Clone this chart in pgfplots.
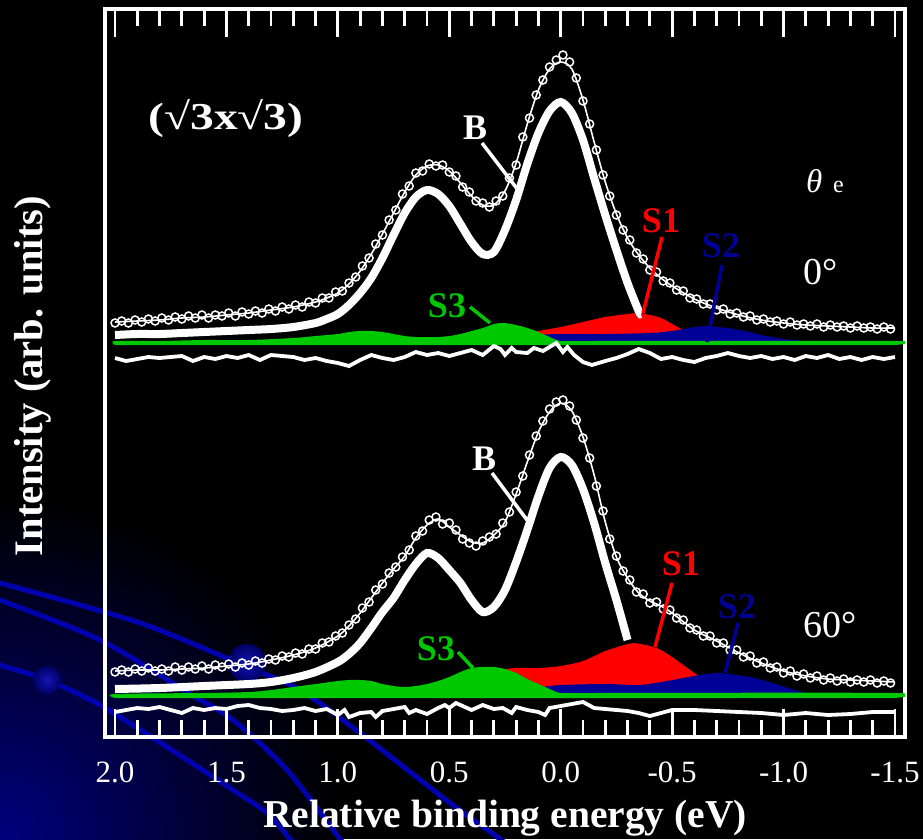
\documentclass[border=0pt]{standalone}
\usepackage{fontspec}
\setmainfont{Liberation Serif}
\usepackage{pgfplots}
\pgfplotsset{compat=1.18}
\definecolor{sgreen}{RGB}{0,200,0}
\definecolor{sred}{RGB}{255,0,0}
\definecolor{sblue}{RGB}{0,0,150}
\definecolor{deco}{RGB}{0,0,175}
\begin{document}
\begin{tikzpicture}
\begin{scope}[x=1pt,y=1pt]
\path[use as bounding box] (0,0) rectangle (923,839);
\fill[black] (0,0) rectangle (923,839);
\begin{scope}
\clip (0,0) rectangle (923,839);
\shade[inner color={rgb,255:red,0;green,0;blue,125}, outer color=black] (0,0) circle (340);
\draw[deco, line width=5pt] plot[smooth] coordinates {(-10,258) (0,256) (140,216) (247,172) (300,149) (360,106) (450,36) (500,0) (510,-10)};
\draw[deco, line width=5pt] plot[smooth] coordinates {(-10,243) (0,239) (100,199) (190,145) (233,119) (287,69) (340,0) (350,-12)};
\draw[deco, line width=5pt] plot[smooth] coordinates {(-10,178) (0,174) (47,159) (100,134) (167,92) (233,49) (267,26) (290,0) (300,-10)};
\shade[inner color={rgb,255:red,20;green,20;blue,180}, outer color={rgb,255:red,0;green,0;blue,100}] (47,159) circle (14);
\shade[inner color={rgb,255:red,20;green,20;blue,180}, outer color={rgb,255:red,0;green,0;blue,100}] (247,176) circle (19);
\end{scope}
\end{scope}

\begin{axis}[
  at={(105pt,102pt)}, anchor=south west,
  width=800pt, height=728pt, scale only axis,
  xmin=-1.545, xmax=2.045, x dir=reverse,
  ymin=9, ymax=737, y dir=reverse,
  axis line style={white, line width=3.5pt},
  xtick={2,1.5,1,0.5,0,-0.5,-1,-1.5},
  xticklabels={2.0,1.5,1.0,0.5,0.0,-0.5,-1.0,-1.5},
  minor x tick num=4,
  ytick=\empty,
  tick align=inside,
  major tick length=28pt, minor tick length=17pt,
  every tick/.style={white, line width=2.8pt},
  xticklabel style={font=\fontsize{31pt}{31pt}\selectfont, text=white, inner sep=0pt, outer sep=0pt, anchor=north, yshift=-25pt},
  clip=true,
]
% ---------- top panel (0 deg) ----------
\addplot[draw=none, fill=sred, smooth] coordinates {(0.5,343)(0.4,341)(0.3,338)(0.2,335)(0.1,331)(0.0,327)(-0.1,322)(-0.2,317)(-0.3,314)(-0.35,313)(-0.4,315)(-0.45,318)(-0.5,324)(-0.55,330)(-0.6,335)(-0.65,339)(-0.7,342)(-0.8,343)};
\addplot[draw=none, fill=sblue, smooth] coordinates {(0.2,343)(0.15,338)(0.1,335)(0.0,334)(-0.2,334)(-0.4,333)(-0.5,331)(-0.55,329)(-0.6,327)(-0.66,326)(-0.7,327)(-0.75,328)(-0.8,330)(-0.85,332)(-0.9,335)(-1.0,339)(-1.1,341)(-1.2,343)};
\addplot[draw=none, fill=sgreen, smooth] coordinates {(2.0,345)(2.0,341)(1.8,341)(1.6,340)(1.4,340)(1.2,338)(1.1,336)(1.0,334)(0.95,332)(0.9,331)(0.85,331)(0.8,332)(0.75,334)(0.7,336)(0.65,337)(0.6,337)(0.55,337)(0.5,336)(0.45,334)(0.4,331)(0.35,328)(0.3,324)(0.27,323)(0.25,323)(0.2,325)(0.15,328)(0.1,332)(0.05,337)(0.0,341)(-0.1,341)(-1.5,341)(-1.5,345)};
\addplot[white, line width=8pt, smooth] coordinates {(2.00,335)(1.90,334)(1.80,334)(1.70,333)(1.60,332)(1.50,331)(1.40,330)(1.30,329)(1.20,327)(1.10,323)(1.05,319)(1.00,314)(0.95,305)(0.90,293)(0.85,278)(0.80,258)(0.75,235)(0.70,213)(0.65,197)(0.60,190)(0.55,194)(0.50,206)(0.45,224)(0.40,242)(0.35,254)(0.30,252)(0.25,230)(0.20,200)(0.15,164)(0.10,133)(0.05,111)(0.00,102)(-0.05,113)(-0.10,140)(-0.15,178)(-0.20,215)(-0.25,250)(-0.30,283)(-0.35,311)(-0.36,314)};
\addplot[white, line width=1.6pt, smooth] coordinates {(2.00,322)(1.90,321)(1.80,320)(1.70,318)(1.60,317)(1.50,315)(1.40,313)(1.30,310)(1.20,307)(1.10,302)(1.05,298)(1.00,293)(0.95,284)(0.90,271)(0.85,254)(0.80,234)(0.75,213)(0.70,192)(0.65,175)(0.60,166)(0.55,165)(0.50,171)(0.45,183)(0.40,196)(0.35,205)(0.30,205)(0.25,191)(0.20,163)(0.15,124)(0.10,90)(0.05,69)(0.00,62)(-0.05,69)(-0.10,100)(-0.15,142)(-0.20,182)(-0.25,214)(-0.30,238)(-0.35,255)(-0.40,268)(-0.45,278)(-0.50,286)(-0.60,299)(-0.70,308)(-0.80,315)(-0.90,320)(-1.00,323)(-1.10,325)(-1.20,326)(-1.30,327)(-1.40,328)(-1.50,328)};
\addplot[only marks, mark=o, mark size=4pt, mark options={white, line width=1.5pt}] coordinates {(2.00,323)(1.97,321)(1.94,323)(1.91,320)(1.88,322)(1.85,319)(1.82,321)(1.79,318)(1.76,320)(1.73,317)(1.70,319)(1.67,316)(1.64,318)(1.61,315)(1.58,318)(1.55,315)(1.52,316)(1.49,313)(1.46,316)(1.43,312)(1.40,314)(1.37,311)(1.34,313)(1.31,309)(1.28,311)(1.25,307)(1.22,309)(1.19,305)(1.16,307)(1.13,302)(1.10,303)(1.07,298)(1.04,298)(1.01,292)(0.98,291)(0.95,283)(0.92,277)(0.89,266)(0.86,258)(0.83,244)(0.80,235)(0.77,220)(0.74,210)(0.71,194)(0.68,186)(0.65,173)(0.62,171)(0.59,164)(0.56,166)(0.53,165)(0.50,172)(0.47,176)(0.44,187)(0.41,192)(0.38,201)(0.35,203)(0.32,207)(0.29,201)(0.26,196)(0.23,178)(0.20,165)(0.17,137)(0.14,118)(0.11,95)(0.08,80)(0.05,67)(0.02,60)(-0.01,55)(-0.04,62)(-0.07,78)(-0.10,101)(-0.13,124)(-0.16,150)(-0.19,175)(-0.22,196)(-0.25,215)(-0.28,230)(-0.31,240)(-0.34,253)(-0.37,259)(-0.40,270)(-0.43,272)(-0.46,281)(-0.49,283)(-0.52,290)(-0.55,291)(-0.58,298)(-0.61,299)(-0.64,304)(-0.67,304)(-0.70,310)(-0.73,309)(-0.76,314)(-0.79,313)(-0.82,317)(-0.85,316)(-0.88,320)(-0.91,319)(-0.94,322)(-0.97,321)(-1.00,324)(-1.03,322)(-1.06,325)(-1.09,324)(-1.12,326)(-1.15,324)(-1.18,327)(-1.21,325)(-1.24,327)(-1.27,326)(-1.30,328)(-1.33,326)(-1.36,328)(-1.39,327)(-1.42,329)(-1.45,327)(-1.48,329)};
\addplot[white, line width=3.8pt] coordinates {(2.00,358)(1.95,361)(1.90,359)(1.85,357)(1.80,358)(1.75,357)(1.70,356)(1.65,361)(1.60,357)(1.55,359)(1.50,356)(1.45,358)(1.40,355)(1.35,360)(1.30,355)(1.25,356)(1.20,357)(1.15,360)(1.10,358)(1.05,361)(1.00,363)(0.95,366)(0.90,360)(0.85,355)(0.80,358)(0.75,360)(0.70,357)(0.65,352)(0.60,355)(0.55,353)(0.50,356)(0.45,353)(0.40,350)(0.35,355)(0.30,346)(0.27,349)(0.25,355)(0.22,348)(0.20,352)(0.15,353)(0.12,348)(0.08,351)(0.05,347)(0.02,343)(-0.01,352)(-0.03,347)(-0.06,355)(-0.10,362)(-0.14,365)(-0.20,361)(-0.25,358)(-0.30,354)(-0.35,349)(-0.40,353)(-0.45,359)(-0.50,357)(-0.55,360)(-0.60,362)(-0.65,358)(-0.70,356)(-0.75,353)(-0.80,356)(-0.85,358)(-0.90,356)(-0.95,359)(-1.00,357)(-1.05,360)(-1.10,356)(-1.15,358)(-1.20,355)(-1.25,359)(-1.30,357)(-1.35,360)(-1.40,357)(-1.45,359)(-1.50,357)};
% ---------- bottom panel (60 deg) ----------
\addplot[draw=none, fill=sred, smooth] coordinates {(0.6,698)(0.5,690)(0.4,680)(0.3,671)(0.2,668)(0.1,668)(0.0,666)(-0.1,661)(-0.2,651)(-0.3,644)(-0.33,643)(-0.4,646)(-0.45,650)(-0.5,657)(-0.55,665)(-0.6,673)(-0.65,681)(-0.7,688)(-0.75,694)(-0.8,698)};
\addplot[draw=none, fill=sblue, smooth] coordinates {(0.2,698)(0.12,690)(0.08,687)(0.0,685)(-0.2,684)(-0.35,685)(-0.45,682)(-0.55,678)(-0.65,674)(-0.7,673)(-0.75,674)(-0.85,677)(-0.95,683)(-1.05,690)(-1.15,695)(-1.25,698)};
\addplot[draw=none, fill=sgreen, smooth] coordinates {(2.0,698)(2.0,694)(1.6,693)(1.4,692)(1.3,690)(1.2,687)(1.1,684)(1.0,681)(0.95,680)(0.9,680)(0.85,681)(0.8,684)(0.75,686)(0.7,687)(0.65,686)(0.6,684)(0.55,681)(0.5,677)(0.45,672)(0.4,668)(0.35,667)(0.3,667)(0.25,669)(0.2,673)(0.15,679)(0.1,684)(0.05,689)(0.0,693)(-0.1,693)(-1.5,693)(-1.5,698)};
\addplot[white, line width=8pt, smooth] coordinates {(2.00,689)(1.80,688)(1.60,686)(1.40,684)(1.30,682)(1.20,678)(1.10,672)(1.00,662)(0.95,654)(0.90,643)(0.85,628)(0.80,612)(0.75,598)(0.70,580)(0.65,564)(0.60,553)(0.55,558)(0.50,570)(0.45,583)(0.40,600)(0.35,612)(0.30,607)(0.25,590)(0.20,562)(0.15,530)(0.10,496)(0.05,468)(0.00,457)(-0.05,465)(-0.10,489)(-0.15,523)(-0.20,563)(-0.25,600)(-0.30,640)};
\addplot[white, line width=1.6pt, smooth] coordinates {(2.00,671)(1.90,670)(1.80,670)(1.70,669)(1.60,668)(1.50,666)(1.40,664)(1.30,660)(1.20,655)(1.10,648)(1.00,636)(0.95,626)(0.90,613)(0.85,598)(0.80,583)(0.75,569)(0.70,556)(0.65,538)(0.60,525)(0.55,519)(0.50,527)(0.45,535)(0.40,542)(0.35,543)(0.30,535)(0.25,522)(0.20,494)(0.15,462)(0.10,432)(0.05,412)(0.00,403)(-0.05,411)(-0.10,437)(-0.15,475)(-0.20,522)(-0.25,557)(-0.30,578)(-0.35,593)(-0.40,601)(-0.45,606)(-0.50,613)(-0.60,630)(-0.70,641)(-0.80,653)(-0.90,663)(-1.00,671)(-1.10,676)(-1.20,679)(-1.30,680)(-1.40,681)(-1.50,682)};
\addplot[only marks, mark=o, mark size=4pt, mark options={white, line width=1.5pt}] coordinates {(2.00,672)(1.97,670)(1.94,672)(1.91,669)(1.88,671)(1.85,668)(1.82,671)(1.79,669)(1.76,671)(1.73,667)(1.70,670)(1.67,667)(1.64,669)(1.61,666)(1.58,669)(1.55,665)(1.52,667)(1.49,664)(1.46,667)(1.43,663)(1.40,665)(1.37,661)(1.34,663)(1.31,659)(1.28,660)(1.25,656)(1.22,657)(1.19,653)(1.16,654)(1.13,649)(1.10,649)(1.07,643)(1.04,642)(1.01,636)(0.98,633)(0.95,625)(0.92,619)(0.89,608)(0.86,602)(0.83,590)(0.80,584)(0.77,573)(0.74,567)(0.71,557)(0.68,550)(0.65,536)(0.62,531)(0.59,520)(0.56,517)(0.53,524)(0.50,523)(0.47,530)(0.44,539)(0.41,543)(0.38,546)(0.35,541)(0.32,537)(0.29,534)(0.26,523)(0.23,512)(0.20,492)(0.17,476)(0.14,455)(0.11,436)(0.08,421)(0.05,409)(0.02,402)(-0.01,400)(-0.04,406)(-0.07,420)(-0.10,438)(-0.13,458)(-0.16,486)(-0.19,511)(-0.22,539)(-0.25,556)(-0.28,571)(-0.31,580)(-0.34,592)(-0.37,594)(-0.40,603)(-0.43,602)(-0.46,609)(-0.49,610)(-0.52,618)(-0.55,620)(-0.58,628)(-0.61,630)(-0.64,636)(-0.67,636)(-0.70,643)(-0.73,643)(-0.76,650)(-0.79,650)(-0.82,657)(-0.85,656)(-0.88,663)(-0.91,662)(-0.94,668)(-0.97,667)(-1.00,673)(-1.03,671)(-1.06,676)(-1.09,674)(-1.12,678)(-1.15,676)(-1.18,680)(-1.21,678)(-1.24,681)(-1.27,679)(-1.30,682)(-1.33,680)(-1.36,682)(-1.39,680)(-1.42,683)(-1.45,681)(-1.48,683)};
\addplot[white, line width=3.8pt] coordinates {(2.00,712)(1.95,710)(1.90,708)(1.85,709)(1.80,707)(1.75,710)(1.70,713)(1.65,708)(1.60,710)(1.55,708)(1.50,709)(1.45,706)(1.40,705)(1.35,708)(1.30,709)(1.25,711)(1.20,710)(1.15,708)(1.10,711)(1.05,709)(1.00,715)(0.97,710)(0.95,717)(0.90,713)(0.85,712)(0.83,717)(0.80,711)(0.75,709)(0.70,707)(0.68,713)(0.65,710)(0.60,714)(0.55,708)(0.52,705)(0.50,708)(0.47,703)(0.45,705)(0.40,710)(0.35,705)(0.30,709)(0.26,708)(0.22,713)(0.20,707)(0.15,710)(0.10,712)(0.07,715)(0.05,708)(0.00,706)(-0.05,704)(-0.10,702)(-0.15,708)(-0.20,709)(-0.25,710)(-0.30,711)(-0.35,713)(-0.40,716)(-0.45,713)(-0.50,710)(-0.60,710)(-0.70,711)(-0.80,712)(-0.90,713)(-1.00,715)(-1.10,713)(-1.20,715)(-1.30,714)(-1.40,712)(-1.50,712)};
\end{axis}

\begin{scope}[x=1pt,y=1pt]
% axis labels
\node[anchor=base, text=white, font=\fontsize{39.5pt}{39.5pt}\selectfont\bfseries, inner sep=0pt] at (505,12) {Relative binding energy (eV)};
\node[anchor=base, rotate=90, text=white, font=\fontsize{40.5pt}{40.5pt}\selectfont\bfseries, inner sep=0pt] at (42,463) {Intensity (arb. units)};
% panel texts
\node[anchor=base, text=white, font=\fontsize{38pt}{38pt}\selectfont\bfseries, inner sep=0pt, xscale=1.25] at (226,709) {(√3x√3)};
\node[anchor=base west, text=white, font=\fontsize{33pt}{33pt}\selectfont, inner sep=0pt] at (806,646) {\textit{θ}};
\node[anchor=base west, text=white, font=\fontsize{24pt}{24pt}\selectfont, inner sep=0pt] at (833,646) {e};
\node[anchor=base west, text=white, font=\fontsize{38pt}{38pt}\selectfont, inner sep=0pt] at (803,554) {0°};
\node[anchor=base west, text=white, font=\fontsize{38pt}{38pt}\selectfont, inner sep=0pt] at (803,202) {60°};
% annotations top
\node[anchor=base, text=white, font=\fontsize{36pt}{36pt}\selectfont\bfseries, inner sep=0pt] at (475,699) {B};
\draw[white, line width=3.5pt] (482,696) -- (518,649);
\node[anchor=base, text=sred, font=\fontsize{36pt}{36pt}\selectfont\bfseries, inner sep=0pt] at (661,606) {S1};
\draw[sred, line width=3.5pt] (662,602) -- (643,526);
\node[anchor=base, text=sblue, font=\fontsize{36pt}{36pt}\selectfont\bfseries, inner sep=0pt] at (721,581) {S2};
\draw[sblue, line width=3.5pt] (722,574) -- (707,497);
\node[anchor=base, text=sgreen, font=\fontsize{36pt}{36pt}\selectfont\bfseries, inner sep=0pt] at (447,521) {S3};
\draw[sgreen, line width=3.5pt] (470,532) -- (490,516);
% annotations bottom
\node[anchor=base, text=white, font=\fontsize{36pt}{36pt}\selectfont\bfseries, inner sep=0pt] at (484,369) {B};
\draw[white, line width=3.5pt] (492,366) -- (527,319);
\node[anchor=base, text=sred, font=\fontsize{36pt}{36pt}\selectfont\bfseries, inner sep=0pt] at (681,264) {S1};
\draw[sred, line width=3.5pt] (672,256) -- (655,192);
\node[anchor=base, text=sblue, font=\fontsize{36pt}{36pt}\selectfont\bfseries, inner sep=0pt] at (737,221) {S2};
\draw[sblue, line width=3.5pt] (738,216) -- (725,166);
\node[anchor=base, text=sgreen, font=\fontsize{36pt}{36pt}\selectfont\bfseries, inner sep=0pt] at (436,179) {S3};
\draw[sgreen, line width=3.5pt] (458,187) -- (473,171);
\end{scope}
\end{tikzpicture}
\end{document}
